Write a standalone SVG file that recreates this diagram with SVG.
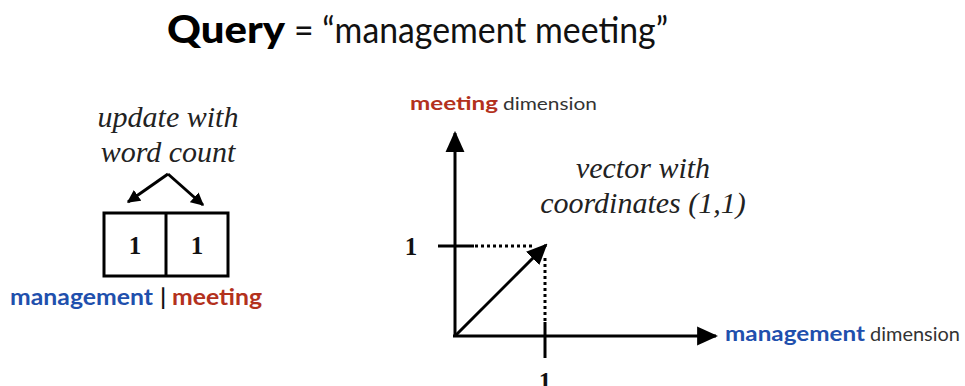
<svg xmlns="http://www.w3.org/2000/svg" width="965" height="386" viewBox="0 0 965 386">
<style>
.sans{font-family:Lato,"Open Sans","Liberation Sans",sans-serif}
.serif{font-family:"Liberation Serif","DejaVu Serif",serif}
.it{font-style:italic;font-size:30px;fill:#222}
.num{font-weight:bold;font-size:25px;fill:#111}
.blue{fill:#1f50ad;font-weight:bold}
.red{fill:#b3311d;font-weight:bold}
.gray{fill:#333}
.ln{stroke:#000;stroke-width:3;fill:none}
.dot{stroke:#000;stroke-width:3;fill:none;stroke-dasharray:3 3}
</style>
<defs>
<marker id="ah" viewBox="0 0 10 10" refX="9" refY="5" markerWidth="13" markerHeight="13" markerUnits="userSpaceOnUse" orient="auto"><path d="M0,0 L10,5 L0,10 Z" fill="#000"/></marker>
<marker id="ahBig" viewBox="0 0 10 10" refX="9" refY="5" markerWidth="7" markerHeight="7" orient="auto"><path d="M0,0.5 L10,5 L0,9.5 Z" fill="#000"/></marker>
</defs>
<rect width="965" height="386" fill="#fff"/>

<g id="title">
<text class="sans" x="167" y="43" font-size="38" font-weight="900" fill="#000" textLength="118" lengthAdjust="spacingAndGlyphs">Query</text>
<text class="sans" x="294" y="43" font-size="36" fill="#111" textLength="374" lengthAdjust="spacingAndGlyphs">= “management meeting”</text>
</g>

<g id="update-label">
<text class="serif it" x="168" y="127" text-anchor="middle">update with</text>
<text class="serif it" x="168" y="162" text-anchor="middle">word count</text>
</g>

<g id="count-box">
<rect x="104" y="213" width="124" height="63" class="ln" stroke-width="2.5"/>
<line x1="166" y1="213" x2="166" y2="276" class="ln" stroke-width="2.5"/>
<text class="serif num" x="135" y="254" text-anchor="middle">1</text>
<text class="serif num" x="197" y="254" text-anchor="middle">1</text>
</g>

<g id="box-label">
<text class="sans blue" x="10" y="305" font-size="22" textLength="143" lengthAdjust="spacingAndGlyphs">management</text>
<text class="sans" x="163" y="305" font-size="22" font-weight="bold" fill="#111" text-anchor="middle">|</text>
<text class="sans red" x="172" y="305" font-size="22" textLength="90" lengthAdjust="spacingAndGlyphs">meeting</text>
</g>

<g id="axis-labels">
<text class="sans red" x="410" y="110" font-size="18" textLength="88" lengthAdjust="spacingAndGlyphs">meeting</text>
<text class="sans gray" x="503" y="110" font-size="18" textLength="94" lengthAdjust="spacingAndGlyphs">dimension</text>
<text class="sans blue" x="725" y="341" font-size="20" textLength="140" lengthAdjust="spacingAndGlyphs">management</text>
<text class="sans gray" x="870" y="341" font-size="19" textLength="90" lengthAdjust="spacingAndGlyphs">dimension</text>
<text class="serif num" x="411" y="255" text-anchor="middle">1</text>
<text class="serif num" x="545" y="390" text-anchor="middle">1</text>
</g>

<g id="vector-label">
<text class="serif it" x="643" y="178" text-anchor="middle">vector with</text>
<text class="serif it" x="643" y="213" text-anchor="middle">coordinates (1,1)</text>
</g>

<g id="connectors">
<path d="M168,174 L128,202" class="ln" stroke-width="2" marker-end="url(#ah)"/>
<path d="M168,174 L203,205" class="ln" stroke-width="2" marker-end="url(#ah)"/>
<path d="M455,337 L455,133" class="ln" stroke-width="3.5" marker-end="url(#ahBig)"/>
<path d="M453,336 L716,336" class="ln" stroke-width="3.5" marker-end="url(#ahBig)"/>
<line x1="438" y1="246" x2="474" y2="246" class="ln"/>
<line x1="475" y1="246" x2="534" y2="246" class="dot"/>
<line x1="545" y1="258" x2="545" y2="322" class="dot"/>
<line x1="545" y1="322" x2="545" y2="358" class="ln"/>
<path d="M455,336 L546,245" class="ln" stroke-width="3" marker-end="url(#ahBig)"/>
</g>
</svg>
